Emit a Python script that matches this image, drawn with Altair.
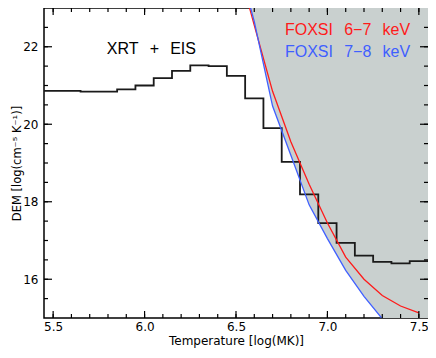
import altair as alt
import pandas as pd

# ---- data ----
# histogram (bin centres, width 0.1) : XRT + EIS DEM
hist_t = [5.5, 5.6, 5.7, 5.8, 5.9, 6.0, 6.1, 6.2, 6.3, 6.4, 6.5, 6.6, 6.7,
          6.8, 6.9, 7.0, 7.1, 7.2, 7.3, 7.4, 7.5]
hist_dem = [20.86, 20.86, 20.84, 20.84, 20.90, 21.00, 21.19, 21.38, 21.52,
            21.50, 21.25, 20.67, 19.90, 19.03, 18.19, 17.45, 16.94, 16.61,
            16.45, 16.41, 16.47]

# FOXSI upper-limit curves
curve_t = [6.5, 6.6, 6.7, 6.8, 6.9, 7.0, 7.1, 7.2, 7.3, 7.4, 7.5]
foxsi67 = [24.30, 22.55, 20.85, 19.55, 18.45, 17.45, 16.57, 16.00, 15.58, 15.31, 15.13]
foxsi78_t = [6.5, 6.6, 6.7, 6.8, 6.9, 7.0, 7.1, 7.2, 7.3, 7.4, 7.5, 7.6]
foxsi78 = [24.40, 22.65, 20.47, 19.20, 17.92, 17.05, 16.23, 15.56, 14.98, 14.48, 14.05, 13.70]

x_major = [5.5, 6.0, 6.5, 7.0, 7.5]
x_minor = [5.5, 5.6, 5.7, 5.8, 5.9, 6.0, 6.1, 6.2, 6.3, 6.4, 6.5, 6.6, 6.7,
           6.8, 6.9, 7.0, 7.1, 7.2, 7.3, 7.4, 7.5]
y_major = [16, 18, 20, 22]
y_minor = [15.5, 16, 16.5, 17, 17.5, 18, 18.5, 19, 19.5, 20, 20.5, 21, 21.5,
           22, 22.5]

label_xrt = "XRT\u2002\u2009+\u2002\u2009EIS"
label_foxsi = ["FOXSI\u2002\u20096\u22127\u2002\u2009keV",
               "FOXSI\u2002\u20097\u22128\u2002\u2009keV"]
xrt_pos = (6.037, 21.81)
foxsi_t = [7.452, 7.452]
foxsi_dem = [22.31, 21.73]
foxsi_color = ["#ff1a1a", "#3f5fff"]

X_DOMAIN = [5.45, 7.55]
Y_DOMAIN = [15, 23]
W, H = 384, 310

# ---- tables ----
edges = [t - 0.05 for t in hist_t] + [hist_t[-1] + 0.05]
hist_df = pd.DataFrame({"t": edges, "dem": hist_dem + [hist_dem[-1]]})
red_df = pd.DataFrame({"t": curve_t, "dem": foxsi67})
blue_df = pd.DataFrame({"t": foxsi78_t, "dem": foxsi78, "top": [Y_DOMAIN[1]] * len(foxsi78)})
xrt_df = pd.DataFrame({"t": [xrt_pos[0]], "dem": [xrt_pos[1]], "text": [label_xrt]})
fox_df = pd.DataFrame({"t": foxsi_t, "dem": foxsi_dem, "text": label_foxsi, "color": foxsi_color})

xscale = alt.Scale(domain=X_DOMAIN, nice=False, zero=False)
yscale = alt.Scale(domain=Y_DOMAIN, nice=False, zero=False)

xaxis = alt.Axis(values=x_major, format=".1f", title="Temperature [log(MK)]",
                 ticks=False, domain=False, grid=False, labelPadding=3,
                 labelFont="DejaVu Sans", labelFontSize=12, labelColor="#000",
                 titleFont="DejaVu Sans", titleFontSize=12, titleFontWeight="normal",
                 titleColor="#000", titlePadding=3)
yaxis = alt.Axis(values=y_major, format="d", title="DEM [log(cm\u207b\u2075 K\u207b\u00b9)]",
                 ticks=False, domain=False, grid=False, labelPadding=6,
                 labelFont="DejaVu Sans", labelFontSize=12, labelColor="#000",
                 titleFont="DejaVu Sans", titleFontSize=11.5, titleFontWeight="normal",
                 titleColor="#000", titlePadding=0)


def X(field="t"):
    return alt.X(f"{field}:Q", scale=xscale, axis=xaxis)


def Y(field="dem"):
    return alt.Y(f"{field}:Q", scale=yscale, axis=yaxis)


fill = alt.Chart(blue_df).mark_area(color="#c9d0cf", clip=True, opacity=1).encode(
    x=X(), y=Y(), y2=alt.Y2("top:Q"))

hist = alt.Chart(hist_df).mark_line(interpolate="step-after", color="#1a1a1a",
                                    strokeWidth=1.8, clip=True).encode(x=X(), y=Y())

red = alt.Chart(red_df).mark_line(color="#ff1a1a", strokeWidth=1.3, clip=True).encode(
    x=X(), y=Y())
blue = alt.Chart(blue_df).mark_line(color="#3f5fff", strokeWidth=1.3, clip=True).encode(
    x=X(), y=Y())

xrt_text = alt.Chart(xrt_df).mark_text(font="Liberation Sans", fontSize=16,
                                       baseline="alphabetic", align="center",
                                       color="#000").encode(x=X(), y=Y(), text="text:N")
fox_text = alt.Chart(fox_df).mark_text(font="Liberation Sans", fontSize=16,
                                       baseline="alphabetic", align="right").encode(
    x=X(), y=Y(), text="text:N", color=alt.Color("color:N", scale=None))

# inward ticks on all four sides
xmaj = pd.DataFrame({"t": x_major})
xmin = pd.DataFrame({"t": x_minor})
ymaj = pd.DataFrame({"dem": y_major})
ymin = pd.DataFrame({"dem": y_minor})
tick_style = dict(color="#000", strokeWidth=1.2)

ticks = [
    alt.Chart(xmaj).mark_rule(**tick_style).encode(x=X(), y=alt.value(H), y2=alt.value(H - 7)),
    alt.Chart(xmin).mark_rule(**tick_style).encode(x=X(), y=alt.value(H), y2=alt.value(H - 4)),
    alt.Chart(xmaj).mark_rule(**tick_style).encode(x=X(), y=alt.value(0), y2=alt.value(7)),
    alt.Chart(xmin).mark_rule(**tick_style).encode(x=X(), y=alt.value(0), y2=alt.value(4)),
    alt.Chart(ymaj).mark_rule(**tick_style).encode(y=Y(), x=alt.value(0), x2=alt.value(8)),
    alt.Chart(ymin).mark_rule(**tick_style).encode(y=Y(), x=alt.value(0), x2=alt.value(4)),
    alt.Chart(ymaj).mark_rule(**tick_style).encode(y=Y(), x=alt.value(W), x2=alt.value(W - 8)),
    alt.Chart(ymin).mark_rule(**tick_style).encode(y=Y(), x=alt.value(W), x2=alt.value(W - 4)),
]

chart = alt.layer(fill, hist, red, blue, *ticks, xrt_text, fox_text).properties(
    width=W, height=H,
    padding={"left": 36, "top": 0, "right": 0, "bottom": 32},
    autosize=alt.AutoSizeParams(type="none"),
    background="white",
).configure_view(stroke="#000", strokeWidth=1.5)

chart.save("out.html", embed_options={"renderer": "svg", "actions": False})
